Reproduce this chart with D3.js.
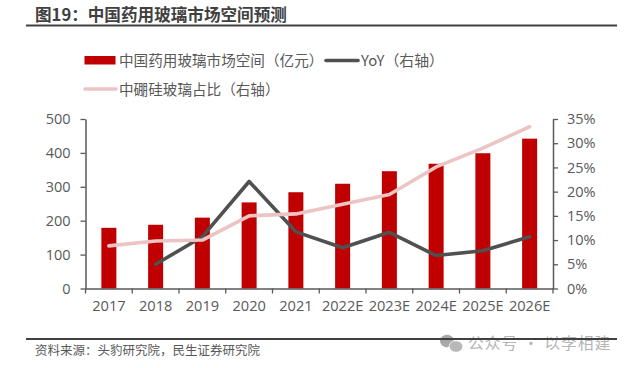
<!DOCTYPE html>
<html>
<head>
<meta charset="utf-8">
<script src="https://cdn.jsdelivr.net/npm/d3@7"></script>
<style>
html, body { margin: 0; padding: 0; background: #fff; }
text { font-family: "Noto Sans CJK SC", "Noto Sans", sans-serif; }
</style>
</head>
<body>
<div id="chart"></div>
<script>
const years = ["2017", "2018", "2019", "2020", "2021", "2022E", "2023E", "2024E", "2025E", "2026E"];
const marketSize = [179, 188, 209, 254, 284, 309, 346, 368, 399, 442];
const yoy = [null, 5.0, 10.7, 22.1, 11.7, 8.4, 11.6, 6.8, 7.8, 10.7];
const boroShare = [8.8, 9.8, 10.0, 15.0, 15.4, 17.4, 19.4, 25.1, 29.0, 33.4];
const leftTicks = [0, 100, 200, 300, 400, 500];
const rightTicks = [0, 5, 10, 15, 20, 25, 30, 35];

const width = 631, height = 368;
const plot = {left: 85.5, right: 553, top: 119, bottom: 288.5};
const textColor = "#595959", axisColor = "#595959";

const svg = d3.select("#chart").append("svg")
    .attr("width", width)
    .attr("height", height)
    .style("display", "block");

const x = d3.scaleBand().domain(years).range([plot.left, plot.right]);
const yLeft = d3.scaleLinear().domain([0, 500]).range([plot.bottom, plot.top]);
const yRight = d3.scaleLinear().domain([0, 35]).range([plot.bottom, plot.top]);

// title and rules
svg.append("text")
    .attr("x", 35).attr("y", 21)
    .attr("font-size", 16.6).attr("font-weight", 700)
    .attr("fill", "#404040")
    .text("图19：中国药用玻璃市场空间预测");
svg.append("line").attr("x1", 26).attr("x2", 617).attr("y1", 25.5).attr("y2", 25.5)
    .attr("stroke", "#404040").attr("stroke-width", 2);
svg.append("text")
    .attr("x", 35).attr("y", 355)
    .attr("font-size", 12.5).attr("fill", textColor)
    .text("资料来源：头豹研究院，民生证券研究院");

// bars
svg.selectAll("rect.bar").data(years).join("rect")
    .attr("class", "bar")
    .attr("x", d => x(d) + x.bandwidth() / 2 - 7.5)
    .attr("width", 15)
    .attr("y", (d, i) => yLeft(marketSize[i]))
    .attr("height", (d, i) => plot.bottom - yLeft(marketSize[i]))
    .attr("fill", "#c00000");

// lines
const line = d3.line()
    .defined(d => d.v !== null)
    .x(d => x(d.year) + x.bandwidth() / 2)
    .y(d => yRight(d.v));

svg.append("path")
    .datum(years.map((year, i) => ({year, v: yoy[i]})))
    .attr("d", line)
    .attr("fill", "none").attr("stroke", "#505050")
    .attr("stroke-width", 3.6).attr("stroke-linecap", "round").attr("stroke-linejoin", "round");

svg.append("path")
    .datum(years.map((year, i) => ({year, v: boroShare[i]})))
    .attr("d", line)
    .attr("fill", "none").attr("stroke", "#ecc4c4")
    .attr("stroke-width", 3.6).attr("stroke-linecap", "round").attr("stroke-linejoin", "round");

// axes
function styleAxis(g) {
    g.selectAll(".domain").attr("stroke", axisColor).attr("stroke-width", 1.5);
    g.selectAll(".tick line").attr("stroke", axisColor).attr("stroke-width", 1.3);
    g.selectAll(".tick text")
        .attr("fill", textColor)
        .attr("font-size", 14.5)
        .style("font-family", '"Open Sans", sans-serif');
}

svg.append("g")
    .attr("transform", `translate(${plot.left},0)`)
    .call(d3.axisLeft(yLeft).tickValues(leftTicks).tickSize(5).tickSizeOuter(0).tickPadding(10))
    .call(styleAxis);

svg.append("g")
    .attr("transform", `translate(${plot.right},0)`)
    .call(d3.axisRight(yRight).tickValues(rightTicks).tickSize(5).tickSizeOuter(0).tickPadding(9)
        .tickFormat(d => d + "%"))
    .call(styleAxis);

const xAxis = svg.append("g")
    .attr("transform", `translate(0,${plot.bottom})`)
    .call(d3.axisBottom(x).tickSize(0).tickPadding(12))
    .call(styleAxis);
xAxis.selectAll(".tick text").attr("font-size", 14.6);
// category ticks sit on the band edges
xAxis.selectAll("line.edge").data(d3.range(years.length + 1)).join("line")
    .attr("class", "edge")
    .attr("x1", i => plot.left + i * x.bandwidth())
    .attr("x2", i => plot.left + i * x.bandwidth())
    .attr("y1", 0).attr("y2", 5)
    .attr("stroke", axisColor).attr("stroke-width", 1.3);

// legend
const legend = svg.append("g");
legend.append("rect").attr("x", 84.5).attr("y", 56).attr("width", 31).attr("height", 8.5).attr("fill", "#c00000");
legend.append("text").attr("x", 119).attr("y", 66).attr("font-size", 14.6).attr("fill", textColor)
    .text("中国药用玻璃市场空间（亿元）");
legend.append("line").attr("x1", 326).attr("x2", 358).attr("y1", 60.5).attr("y2", 60.5)
    .attr("stroke", "#505050").attr("stroke-width", 3.6).attr("stroke-linecap", "round");
legend.append("text").attr("x", 361).attr("y", 66).attr("font-size", 14.9).attr("fill", textColor)
    .text("YoY（右轴）");
legend.append("line").attr("x1", 85).attr("x2", 116).attr("y1", 89).attr("y2", 89)
    .attr("stroke", "#ecc4c4").attr("stroke-width", 3.6).attr("stroke-linecap", "round");
legend.append("text").attr("x", 119).attr("y", 95).attr("font-size", 14.6).attr("fill", textColor)
    .text("中硼硅玻璃占比（右轴）");

// watermark, the bottom rule runs over it
const mark = svg.append("g");
mark.append("ellipse").attr("cx", 447).attr("cy", 341).attr("rx", 7).attr("ry", 6.2).attr("fill", "#a8a8a8");
mark.append("ellipse").attr("cx", 456).attr("cy", 346.5).attr("rx", 6.8).attr("ry", 5.8)
    .attr("fill", "#b8b8b8").attr("stroke", "#fff").attr("stroke-width", 0.8);
mark.append("text").attr("x", 468).attr("y", 349).attr("font-size", 15.8).attr("fill", "#b5b5b5")
    .attr("letter-spacing", 1).text("公众号 · 以李相建");
svg.append("line").attr("x1", 26).attr("x2", 617).attr("y1", 339).attr("y2", 339)
    .attr("stroke", "#404040").attr("stroke-width", 2);
</script>
</body>
</html>
